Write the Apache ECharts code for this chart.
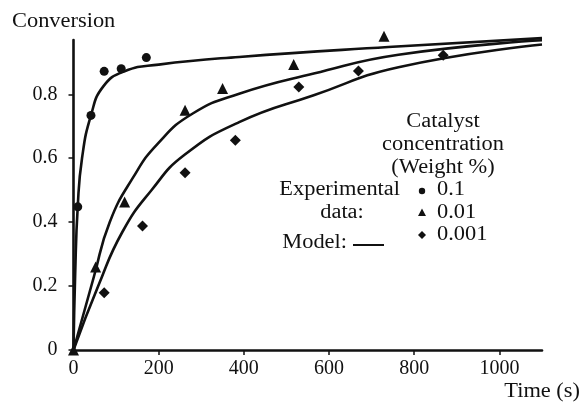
<!DOCTYPE html>
<html>
<head>
<meta charset="utf-8">
<script src="https://cdn.jsdelivr.net/npm/echarts@6/dist/echarts.min.js"></script>
<style>
  html, body { margin: 0; padding: 0; background: #fff; }
  #chart { width: 582px; height: 402px; }
</style>
</head>
<body>
<div id="chart"></div>
<script>
// Axis tick values
const xTicks = [0, 200, 400, 600, 800, 1000];
const yTicks = [0, 0.2, 0.4, 0.6, 0.8];

// Experimental data: [time (s), conversion]
const exp01 = [[10, 0.448], [41, 0.734], [72, 0.872], [112, 0.88], [171, 0.915]];
const exp001 = [[0, 0], [52, 0.26], [120, 0.463], [262, 0.75], [350, 0.818], [517, 0.893], [729, 0.982]];
const exp0001 = [[72, 0.179], [162, 0.388], [262, 0.555], [380, 0.656], [529, 0.823], [669, 0.873], [868, 0.922]];

// Model curves: [time (s), conversion]
const model01 = [[0, 0], [4, 0.24], [10, 0.45], [20, 0.6], [41, 0.734], [70, 0.825], [120, 0.872],
  [200, 0.893], [389, 0.917], [739, 0.948], [1100, 0.976]];
const model001 = [[0, 0], [48, 0.23], [85, 0.4], [140, 0.54], [198, 0.646], [280, 0.74],
  [389, 0.802], [564, 0.865], [763, 0.924], [1100, 0.969]];
const model0001 = [[0, 0], [58, 0.2], [115, 0.37], [183, 0.5], [260, 0.61], [389, 0.713],
  [564, 0.797], [763, 0.885], [1100, 0.956]];

const serif = 'Liberation Serif';
const ink = '#111';
const font = '20px "' + serif + '"';

const chart = echarts.init(document.getElementById('chart'), null, { renderer: 'canvas' });

function curve(data) {
  return {
    type: 'line', data: data, smooth: 0.5, showSymbol: false,
    lineStyle: { color: ink, width: 2.6 }, silent: true, z: 2, clip: false
  };
}
function points(data, symbol, size) {
  return {
    type: 'scatter', data: data, symbol: symbol, symbolSize: size,
    itemStyle: { color: ink, opacity: 1 }, z: 3, clip: false
  };
}

// Text scaled horizontally about its anchor point
const label = (x, y, text, align) => ({
  type: 'text', x: x, y: y, scaleX: 1.12,
  style: { text: text, font: font, fill: ink, align: align || 'left', verticalAlign: 'middle' }
});

chart.setOption({
  backgroundColor: '#fff',
  animation: false,
  grid: { left: 73.5, right: 40, top: 40, bottom: 52 },
  xAxis: {
    type: 'value', min: 0, max: 1100, interval: 200,
    axisLine: { lineStyle: { color: ink, width: 2.6 } },
    axisTick: { show: true, length: 5, lineStyle: { color: ink, width: 1.5 }, customValues: xTicks },
    axisLabel: { color: ink, fontFamily: serif, fontSize: 20, margin: 9, customValues: xTicks,
      formatter: v => String(v) },
    splitLine: { show: false }
  },
  yAxis: {
    type: 'value', min: 0, max: 0.97, interval: 0.2,
    axisLine: { show: true, lineStyle: { color: ink, width: 2.6 } },
    axisTick: { show: true, length: 5, lineStyle: { color: ink, width: 1.5 }, customValues: yTicks },
    axisLabel: { color: ink, fontFamily: serif, fontSize: 20, margin: 16,
      customValues: yTicks, formatter: v => (v === 0 ? '0' : v.toFixed(1)) },
    splitLine: { show: false }
  },
  series: [
    curve(model01), curve(model001), curve(model0001),
    points(exp01, 'circle', 9),
    points(exp0001, 'diamond', 11),
    points(exp001, 'triangle', 11)
  ],
  graphic: [
    label(12, 22, 'Conversion'),
    label(580, 392, 'Time (s)', 'right'),
    label(443, 122, 'Catalyst', 'center'),
    label(443, 145, 'concentration', 'center'),
    label(443, 168, '(Weight %)', 'center'),
    label(400, 190, 'Experimental', 'right'),
    label(342, 213, 'data:', 'center'),
    label(347, 243, 'Model:', 'right'),
    { type: 'line', shape: { x1: 353, y1: 245, x2: 384, y2: 245 }, style: { stroke: ink, lineWidth: 2 } },
    { type: 'circle', shape: { cx: 422, cy: 191, r: 3.2 }, style: { fill: ink } },
    { type: 'polygon', shape: { points: [[422, 208.5], [418, 216], [426, 216]] }, style: { fill: ink } },
    { type: 'polygon', shape: { points: [[422, 231], [426, 235], [422, 239], [418, 235]] }, style: { fill: ink } },
    label(437, 190, '0.1'),
    label(437, 213, '0.01'),
    label(437, 235, '0.001')
  ]
});
</script>
</body>
</html>
